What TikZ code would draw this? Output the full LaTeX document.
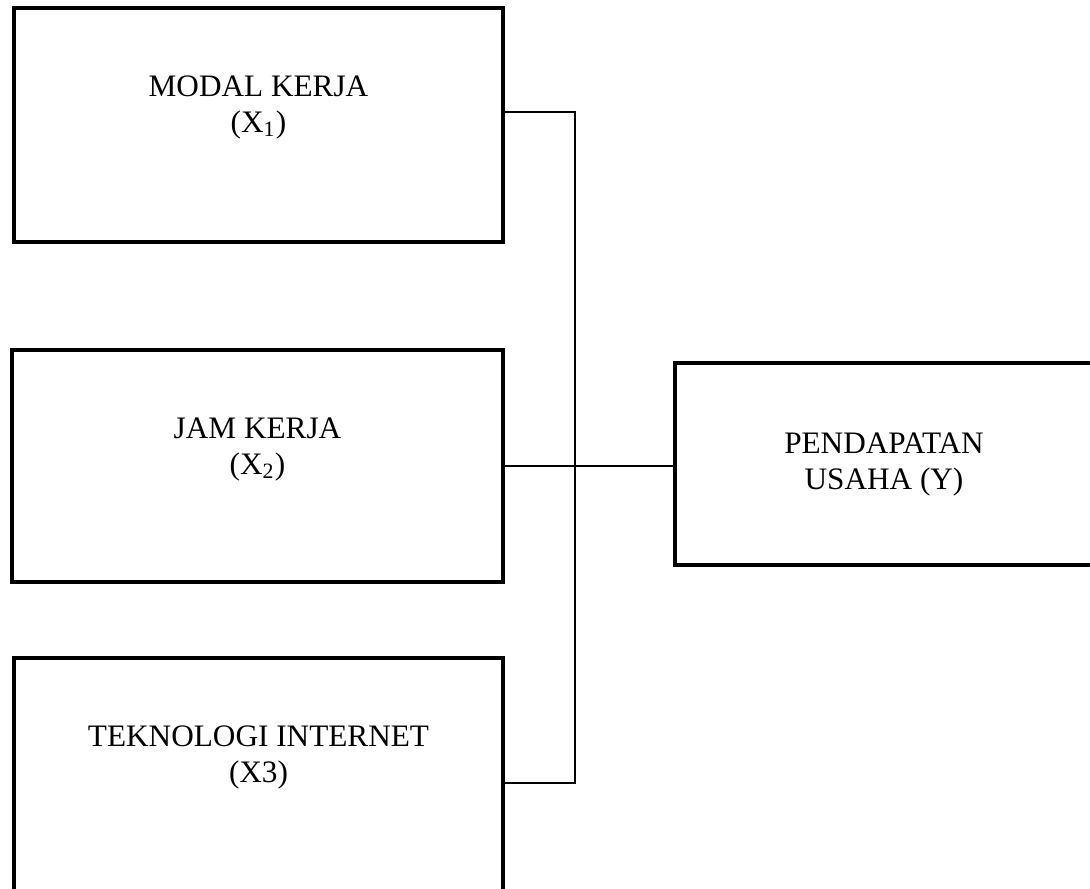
\documentclass[tikz,border=0pt]{standalone}
\usepackage{fontspec}
\setmainfont{Liberation Serif}
\usetikzlibrary{positioning}

\begin{document}
\begin{tikzpicture}[
    x=0.4pt, y=-0.4pt,
    box/.style={rectangle, draw=black, line width=1.6pt, inner sep=0pt},
    txt/.style={align=center, inner sep=0pt, font=\fontsize{12.5}{14.4}\selectfont},
    link/.style={draw=black, line width=0.8pt}
]
    \clip (0,0) rectangle (1090,888);

    % Variabel bebas
    \node[box, minimum width=195.6pt, minimum height=93.6pt] (x1) at (258.5,125) {};
    \node[box, minimum width=196.4pt, minimum height=92.8pt] (x2) at (257.5,466) {};
    \node[box, minimum width=195.6pt, minimum height=104.8pt] (x3) at (258.5,789) {};

    \node[txt, below=27.6pt of x1.north] (t1) {MODAL KERJA\\(X\textsubscript{1})};
    \node[txt, below=27.6pt of x2.north] (t2) {JAM KERJA\\(X\textsubscript{2})};
    \node[txt, below=27.6pt of x3.north] (t3) {TEKNOLOGI INTERNET\\(X3)};

    % Variabel terikat
    \node[box, minimum width=182pt, minimum height=80.8pt] (y) at (902.5,464) {};
    \node[txt] (ty) at (884,464) {PENDAPATAN\\USAHA (Y)};

    % Garis penghubung
    \coordinate (bustop) at (575,112);
    \coordinate (busbot) at (575,783);
    \draw[link] (x1.east |- bustop) -- (bustop) -- (busbot) -- (x3.east |- busbot);
    \draw[link] (x2.east) -- (x2.east -| y.west);

\end{tikzpicture}
\end{document}
